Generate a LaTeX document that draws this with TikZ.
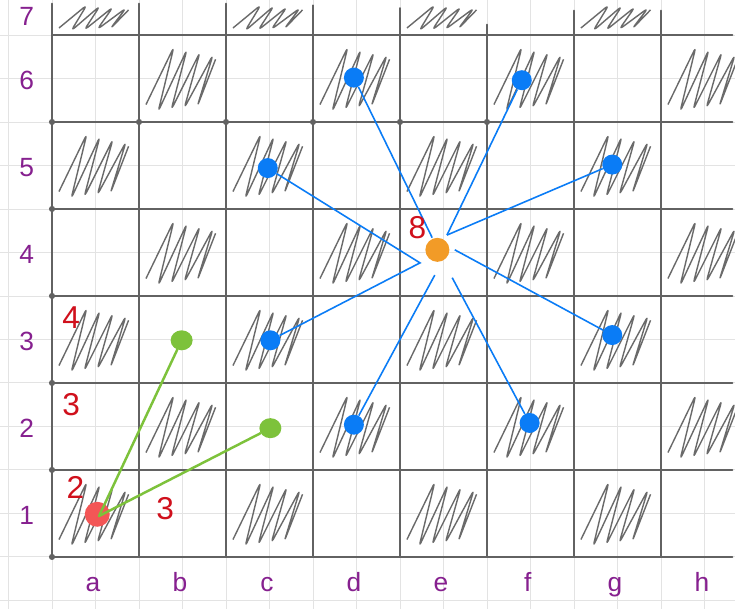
\documentclass[tikz,border=0pt]{standalone}
\usepackage{fontspec}
\setmainfont{Liberation Sans}
\usepackage{xcolor}
\usetikzlibrary{positioning,shapes.geometric}
\definecolor{papergrid}{HTML}{E3E3E3}
\definecolor{boardgray}{HTML}{626262}
\definecolor{inkpurple}{HTML}{86208F}
\definecolor{inkred}{HTML}{D0101C}
\definecolor{movblue}{HTML}{0A7CF6}
\definecolor{knightorange}{HTML}{F29B27}
\definecolor{startred}{HTML}{F35656}
\definecolor{pathgreen}{HTML}{7DC23B}

% zig-zag pencil shading of one square: x, y of lower left corner, height
\newcommand{\scribble}[3]{%
  \draw[hatch, shift={(#1,#2)}, yscale=#3]
    (0.08,0.20) \foreach \i in {0,...,3} {
      -- ({0.40+0.15*\i},{0.86-0.03*\i}) -- ({0.22+0.15*\i},{0.12+0.02*\i}) }
    -- (0.88,0.72);
}

\begin{document}
\begin{tikzpicture}[
    x=1.74cm, y=1.74cm,
    gridline/.style={draw=papergrid, line width=0.5pt},
    boardline/.style={draw=boardgray, line width=1.1pt, line cap=round},
    hatch/.style={draw=boardgray!95, line width=0.8pt, rounded corners=2.5pt, line join=round},
    corner/.style={circle, fill=boardgray, inner sep=0pt, minimum size=3.5pt},
    coord/.style={font=\fontsize{15}{15}\selectfont, text=inkpurple},
    count/.style={font=\fontsize{18}{18}\selectfont, text=inkred},
    target/.style={circle, fill=movblue, inner sep=0pt, minimum size=0.40cm},
    knight/.style={circle, fill=knightorange, inner sep=0pt, minimum size=0.48cm},
    start/.style={circle, fill=startred, inner sep=0pt, minimum size=0.50cm},
    reach/.style={ellipse, fill=pathgreen, inner sep=0pt, minimum width=0.44cm, minimum height=0.40cm},
    move/.style={draw=movblue, line width=0.9pt},
    route/.style={draw=pathgreen, line width=1.4pt, line cap=round},
]

% ── paper ────────────────────────────────────────────────────────────
\useasboundingbox[fill=white] (-0.598,-0.598) rectangle (7.851,6.402);
\draw[gridline] (-0.598,-0.598) grid[step=0.5] (7.851,6.402);

% ── shaded squares ───────────────────────────────────────────────────
\foreach \f in {1,...,8} {
  \foreach \r in {1,...,6} {
    \pgfmathtruncatemacro{\odd}{mod(\f+\r,2)}
    \ifnum\odd=0 \scribble{\f-1}{\r-1}{1} \fi
  }
}
\foreach \f in {1,3,5,7} { \scribble{\f-1}{6}{0.4} }

% ── board lines ──────────────────────────────────────────────────────
\foreach \r in {0,...,6} { \draw[boardline] (0,\r) -- (7.82,\r); }
\foreach \f in {0,1,2} { \draw[boardline] (\f,0) -- (\f,6.36); }
\foreach \f/\t in {3/6.34, 4/6.31, 5/6.12, 6/6.28, 7/6.28} { \draw[boardline] (\f,0) -- (\f,\t); }
\foreach \r in {0,...,5} { \node[corner] (lc\r) at (0,\r) {}; }
\foreach \f in {1,...,5} { \node[corner] (tc\f) at (\f,5) {}; }

% ── coordinates ──────────────────────────────────────────────────────
\foreach \r in {1,...,6} { \node[coord] (rank\r) at (-0.29,\r-0.52) {\r}; }
\node[coord] (rank7) at (-0.29,6.21) {7};
\foreach \l [count=\f] in {a,b,c,d,e,f,g,h} {
  \node[coord, anchor=base] (file\l) at (\f-0.53,-0.40) {\l};
}

% ── knight on e4 and its eight targets ───────────────────────────────
\node[knight] (e4) at (4.43,3.53) {};
\node[target] (d6) at (3.47,5.51) {};
\node[target] (f6) at (5.40,5.48) {};
\node[target] (c5) at (2.48,4.47) {};
\node[target] (g5) at (6.44,4.51) {};
\node[target] (c3) at (2.51,2.49) {};
\node[target] (g3) at (6.44,2.55) {};
\node[target] (d2) at (3.47,1.52) {};
\node[target] (f2) at (5.49,1.54) {};

\coordinate (tipNW) at (4.37,3.67);
\coordinate (tipNE) at (4.54,3.70);
\coordinate (tipW)  at (4.23,3.38);
\coordinate (tipE)  at (4.63,3.53);
\coordinate (tipSW) at (4.40,3.24);
\coordinate (tipSE) at (4.60,3.21);

\draw[move] (d6) -- (tipNW);
\draw[move] (f6) -- (tipNE);
\draw[move] (g5) -- (tipNE);
\draw[move] (c5) -- (tipW) -- (c3);
\draw[move] (tipE) -- (g3);
\draw[move] (tipSW) -- (d2);
\draw[move] (tipSE) -- (f2);
\node[count] (n8) at (4.20,3.79) {8};

% ── knight on a1 ─────────────────────────────────────────────────────
\node[start] (a1) at (0.52,0.49) {};
\node[reach] (b3) at (1.49,2.49) {};
\node[reach] (c2) at (2.51,1.48) {};
\draw[route] ([xshift=1pt,yshift=-1pt]a1.center) -- (b3);
\draw[route] ([xshift=1pt,yshift=-1pt]a1.center) -- (c2);

\node[count] (n4)  at (0.22,2.75) {4};
\node[count] (n3a) at (0.22,1.75) {3};
\node[count] (n2)  at (0.27,0.80) {2};
\node[count] (n3b) at (1.30,0.55) {3};

\end{tikzpicture}
\end{document}
